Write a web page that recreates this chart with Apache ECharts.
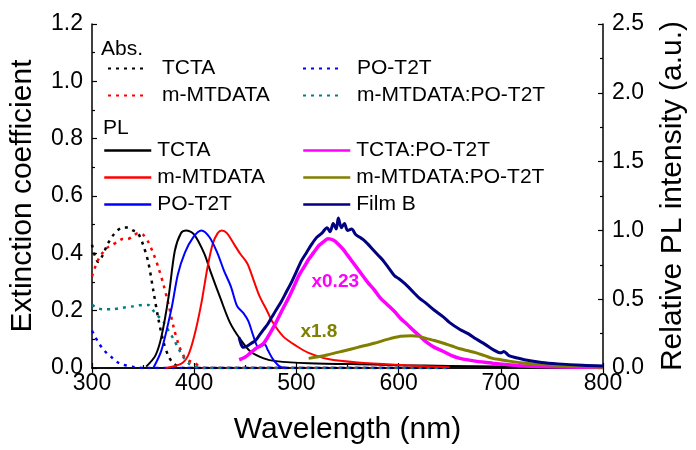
<!DOCTYPE html>
<html>
<head>
<meta charset="utf-8">
<script src="https://cdn.jsdelivr.net/npm/echarts@6/dist/echarts.min.js"></script>
<style>html,body{margin:0;padding:0;background:#fff}#main{width:696px;height:450px}</style>
</head>
<body>
<div id="main"></div>
<script>
// ---- Absorption (left axis, extinction coefficient) ----
const absTCTA_x = [300,303,306,310,315,320,325,330,335,340,345,350,355,360,365,370,375,380,385,390,400,500,650];
const absTCTA_y = [0.43,0.39,0.37,0.39,0.43,0.46,0.48,0.49,0.49,0.48,0.47,0.43,0.37,0.27,0.17,0.09,0.04,0.015,0.005,0,0,0,0];
const absMT_x = [300,305,310,315,320,325,330,335,340,345,350,355,360,365,370,375,380,385,390,395,400,405,410,500,650];
const absMT_y = [0.32,0.37,0.40,0.42,0.43,0.44,0.45,0.45,0.46,0.47,0.465,0.44,0.40,0.35,0.29,0.22,0.14,0.08,0.04,0.025,0.02,0.005,0,0,0];
const absPO_x = [300,303,306,310,315,320,325,330,340,350,500,650];
const absPO_y = [0.13,0.11,0.09,0.07,0.05,0.035,0.02,0.012,0.004,0,0,0];
const absMix_x = [300,305,310,320,330,340,350,355,360,365,370,375,380,385,390,395,400,410,500,650];
const absMix_y = [0.22,0.21,0.205,0.205,0.21,0.215,0.22,0.22,0.20,0.18,0.16,0.13,0.10,0.065,0.035,0.015,0.005,0,0,0];

// ---- PL (right axis, relative intensity) ----
const plTCTA_x = [353,362,368,375,381,387,392,400,410,416,426,435,445,455,468,480,512,576,600,650,700,800];
const plTCTA_y = [0.01,0.09,0.23,0.52,0.85,0.98,1.0,0.97,0.83,0.70,0.50,0.33,0.21,0.12,0.07,0.05,0.035,0.025,0.02,0.015,0.01,0.005];
const plMT_x = [372,387,394,400,407,413,418,423,427,432,439,445,452,458,464,471,477,487,500,512,531,560,608,650];
const plMT_y = [0,0.03,0.09,0.23,0.47,0.73,0.90,0.98,1.0,0.98,0.90,0.83,0.76,0.64,0.52,0.42,0.33,0.23,0.16,0.11,0.065,0.04,0.02,0.005];
const plPO_x = [360,368,378,384,391,399,407,415,423,429,436,442,448,453,458,463,469,472,477,484,490];
const plPO_y = [0,0.13,0.44,0.68,0.84,0.95,1.0,0.95,0.83,0.71,0.59,0.45,0.40,0.34,0.23,0.15,0.17,0.13,0.065,0.01,0];
const plTP_x = [444,450,455,460,468,474,480,486,493,498,503,508,512,517,522,527,531,536,541,546,550,557,564,570,576,582,589,596,602,608,615,621,627,635,644,652,660,675,692,710,723,760,800];
const plTP_y = [0.06,0.08,0.11,0.14,0.18,0.25,0.33,0.42,0.52,0.60,0.68,0.74,0.79,0.84,0.89,0.92,0.94,0.93,0.90,0.86,0.82,0.75,0.68,0.62,0.57,0.51,0.46,0.41,0.36,0.32,0.27,0.23,0.19,0.15,0.12,0.09,0.07,0.05,0.035,0.022,0.015,0.008,0.004];
const plMP_x = [512,520,530,544,560,576,590,602,612,620,627,635,644,652,660,668,676,684,692,700,708,724,740,772,800];
const plMP_y = [0.07,0.08,0.095,0.12,0.15,0.18,0.21,0.23,0.235,0.23,0.215,0.20,0.18,0.16,0.14,0.125,0.11,0.09,0.07,0.06,0.05,0.035,0.025,0.012,0.006];
const plFB_x = [444,446,448,452,456,460,464,468,472,476,480,485,490,495,500,505,510,515,520,525,530,533,536,539,541,544,547,550,554,558,562,566,570,575,580,585,590,596,600,605,612,620,627,635,644,650,660,668,676,685,692,700,703,708,715,723,740,756,780,800];
const plFB_y = [0.22,0.17,0.15,0.16,0.18,0.20,0.24,0.28,0.32,0.37,0.42,0.48,0.55,0.62,0.70,0.78,0.84,0.90,0.95,0.98,1.02,0.99,1.05,1.01,1.09,1.02,1.05,1.00,1.01,0.97,0.95,0.93,0.90,0.86,0.82,0.78,0.73,0.67,0.65,0.62,0.57,0.51,0.47,0.42,0.37,0.33,0.28,0.25,0.21,0.17,0.135,0.11,0.12,0.09,0.075,0.06,0.04,0.03,0.02,0.015];

// ---- Axis ticks / labels ----
const xMin = 300, xMax = 800, xStep = 100;
const yLMax = 1.2, yLStep = 0.2;
const yRMax = 2.5, yRStep = 0.5;
const scaleLabels = [{text:'x0.23', at:[538,0.625], color:'#ff00ff'}, {text:'x1.8', at:[522,0.266], color:'#808000'}];

const zip = (xs, ys) => xs.map((x, i) => [x, ys[i]]);
const FONT = 'Liberation Sans, Arial, Helvetica, sans-serif';

function absSeries(name, xs, ys, color) {
  return {name: 'Abs ' + name, type: 'line', yAxisIndex: 0, xAxisIndex: 0, data: zip(xs, ys),
    showSymbol: false, symbol: 'none', smooth: 0.3, silent: true,
    lineStyle: {color: color, width: 2.5, type: [3, 5]}, itemStyle: {color: color}, z: 2};
}
function plSeries(name, xs, ys, color, width, extra) {
  return Object.assign({name: 'PL ' + name, type: 'line', yAxisIndex: 1, xAxisIndex: 0, data: zip(xs, ys),
    showSymbol: false, symbol: 'none', smooth: 0.3, silent: true,
    lineStyle: {color: color, width: width}, itemStyle: {color: color}, z: 3}, extra || {});
}
function mark(lbl) {
  return {symbol: 'circle', symbolSize: 0, silent: true,
    label: {show: true, position: 'inside', formatter: lbl.text, color: lbl.color, fontWeight: 'bold', fontSize: 19, fontFamily: FONT},
    data: [{coord: lbl.at}]};
}

const series = [
  absSeries('TCTA', absTCTA_x, absTCTA_y, '#000000'),
  absSeries('m-MTDATA', absMT_x, absMT_y, '#ff0000'),
  absSeries('PO-T2T', absPO_x, absPO_y, '#0000ff'),
  absSeries('m-MTDATA:PO-T2T', absMix_x, absMix_y, '#008080'),
  plSeries('TCTA', plTCTA_x, plTCTA_y, '#000000', 2),
  plSeries('m-MTDATA', plMT_x, plMT_y, '#ff0000', 2),
  plSeries('PO-T2T', plPO_x, plPO_y, '#0000ff', 2),
  plSeries('TCTA:PO-T2T', plTP_x, plTP_y, '#ff00ff', 3.5, {markPoint: mark(scaleLabels[0])}),
  plSeries('m-MTDATA:PO-T2T', plMP_x, plMP_y, '#808000', 3, {markPoint: mark(scaleLabels[1])}),
  plSeries('Film B', plFB_x, plFB_y, '#000080', 3)
];

const legendCommon = {orient: 'vertical', padding: 0, itemGap: 6, itemHeight: 14, selectedMode: false,
  itemStyle: {opacity: 0},
  formatter: n => n.replace(/^(Abs|PL) /, ''),
  textStyle: {fontSize: 21, color: '#000', fontFamily: FONT}};
const legAbs = Object.assign({}, legendCommon, {itemWidth: 40, textStyle: Object.assign({}, legendCommon.textStyle, {padding: [0, 0, 0, 9]})});
const legPL = Object.assign({}, legendCommon, {itemWidth: 47, lineStyle: {width: 2.5}, textStyle: Object.assign({}, legendCommon.textStyle, {padding: [0, 0, 0, 1]})});

const axisLine = {show: true, lineStyle: {color: '#000', width: 1.5}};
const chart = echarts.init(document.getElementById('main'));
chart.setOption({
  animation: false,
  backgroundColor: '#fff',
  grid: {left: 92, right: 83, top: 24, bottom: 78, containLabel: false},
  legend: [
    Object.assign({}, legAbs, {data: ['Abs TCTA', 'Abs m-MTDATA'], left: 107, top: 58}),
    Object.assign({}, legAbs, {data: ['Abs PO-T2T', 'Abs m-MTDATA:PO-T2T'], left: 302, top: 58}),
    Object.assign({}, legPL, {data: ['PL TCTA', 'PL m-MTDATA', 'PL PO-T2T'], left: 103, top: 140}),
    Object.assign({}, legPL, {data: ['PL TCTA:PO-T2T', 'PL m-MTDATA:PO-T2T', 'PL Film B'], left: 302, top: 140})
  ],
  graphic: [
    {type: 'text', left: 101, top: 39, style: {text: 'Abs.', fontSize: 21, fill: '#000', fontFamily: FONT}},
    {type: 'text', left: 103, top: 118, style: {text: 'PL', fontSize: 21, fill: '#000', fontFamily: FONT}}
  ],
  xAxis: [
    {type: 'value', min: xMin, max: xMax, interval: xStep, position: 'bottom',
      axisLine: axisLine, axisTick: {show: true, inside: true, length: 5, lineStyle: {color: '#000', width: 1.2}},
      minorTick: {show: true, splitNumber: 2, length: 3, lineStyle: {color: '#000', width: 1.2}},
      splitLine: {show: false}, minorSplitLine: {show: false},
      axisLabel: {fontSize: 23, color: '#000', margin: 4, fontFamily: FONT},
      name: 'Wavelength (nm)', nameLocation: 'middle', nameGap: 47,
      nameTextStyle: {fontSize: 30, color: '#000', fontFamily: FONT}},
    {type: 'value', min: xMin, max: xMax, interval: xStep, position: 'top',
      axisLine: axisLine, axisTick: {show: true, inside: true, length: 5, lineStyle: {color: '#000', width: 1.2}},
      splitLine: {show: false}, axisLabel: {show: false}}
  ],
  yAxis: [
    {type: 'value', min: 0, max: yLMax, interval: yLStep, position: 'left',
      axisLine: axisLine, axisTick: {show: true, inside: true, length: 5, lineStyle: {color: '#000', width: 1.2}},
      minorTick: {show: true, splitNumber: 2, length: 3, lineStyle: {color: '#000', width: 1.2}},
      splitLine: {show: false},
      axisLabel: {fontSize: 23, color: '#000', margin: 9, fontFamily: FONT, formatter: v => v.toFixed(1)},
      name: 'Extinction coefficient', nameLocation: 'middle', nameGap: 54,
      nameTextStyle: {fontSize: 30, color: '#000', fontFamily: FONT}},
    {type: 'value', min: 0, max: yRMax, interval: yRStep, position: 'right',
      axisLine: axisLine, axisTick: {show: true, inside: true, length: 5, lineStyle: {color: '#000', width: 1.2}},
      minorTick: {show: true, splitNumber: 2, length: 3, lineStyle: {color: '#000', width: 1.2}},
      splitLine: {show: false},
      axisLabel: {fontSize: 23, color: '#000', margin: 9, fontFamily: FONT, formatter: v => v.toFixed(1)},
      name: 'Relative PL intensity (a.u.)', nameLocation: 'middle', nameGap: 55,
      nameTextStyle: {fontSize: 30, color: '#000', fontFamily: FONT}}
  ],
  series: series
});
</script>
</body>
</html>
